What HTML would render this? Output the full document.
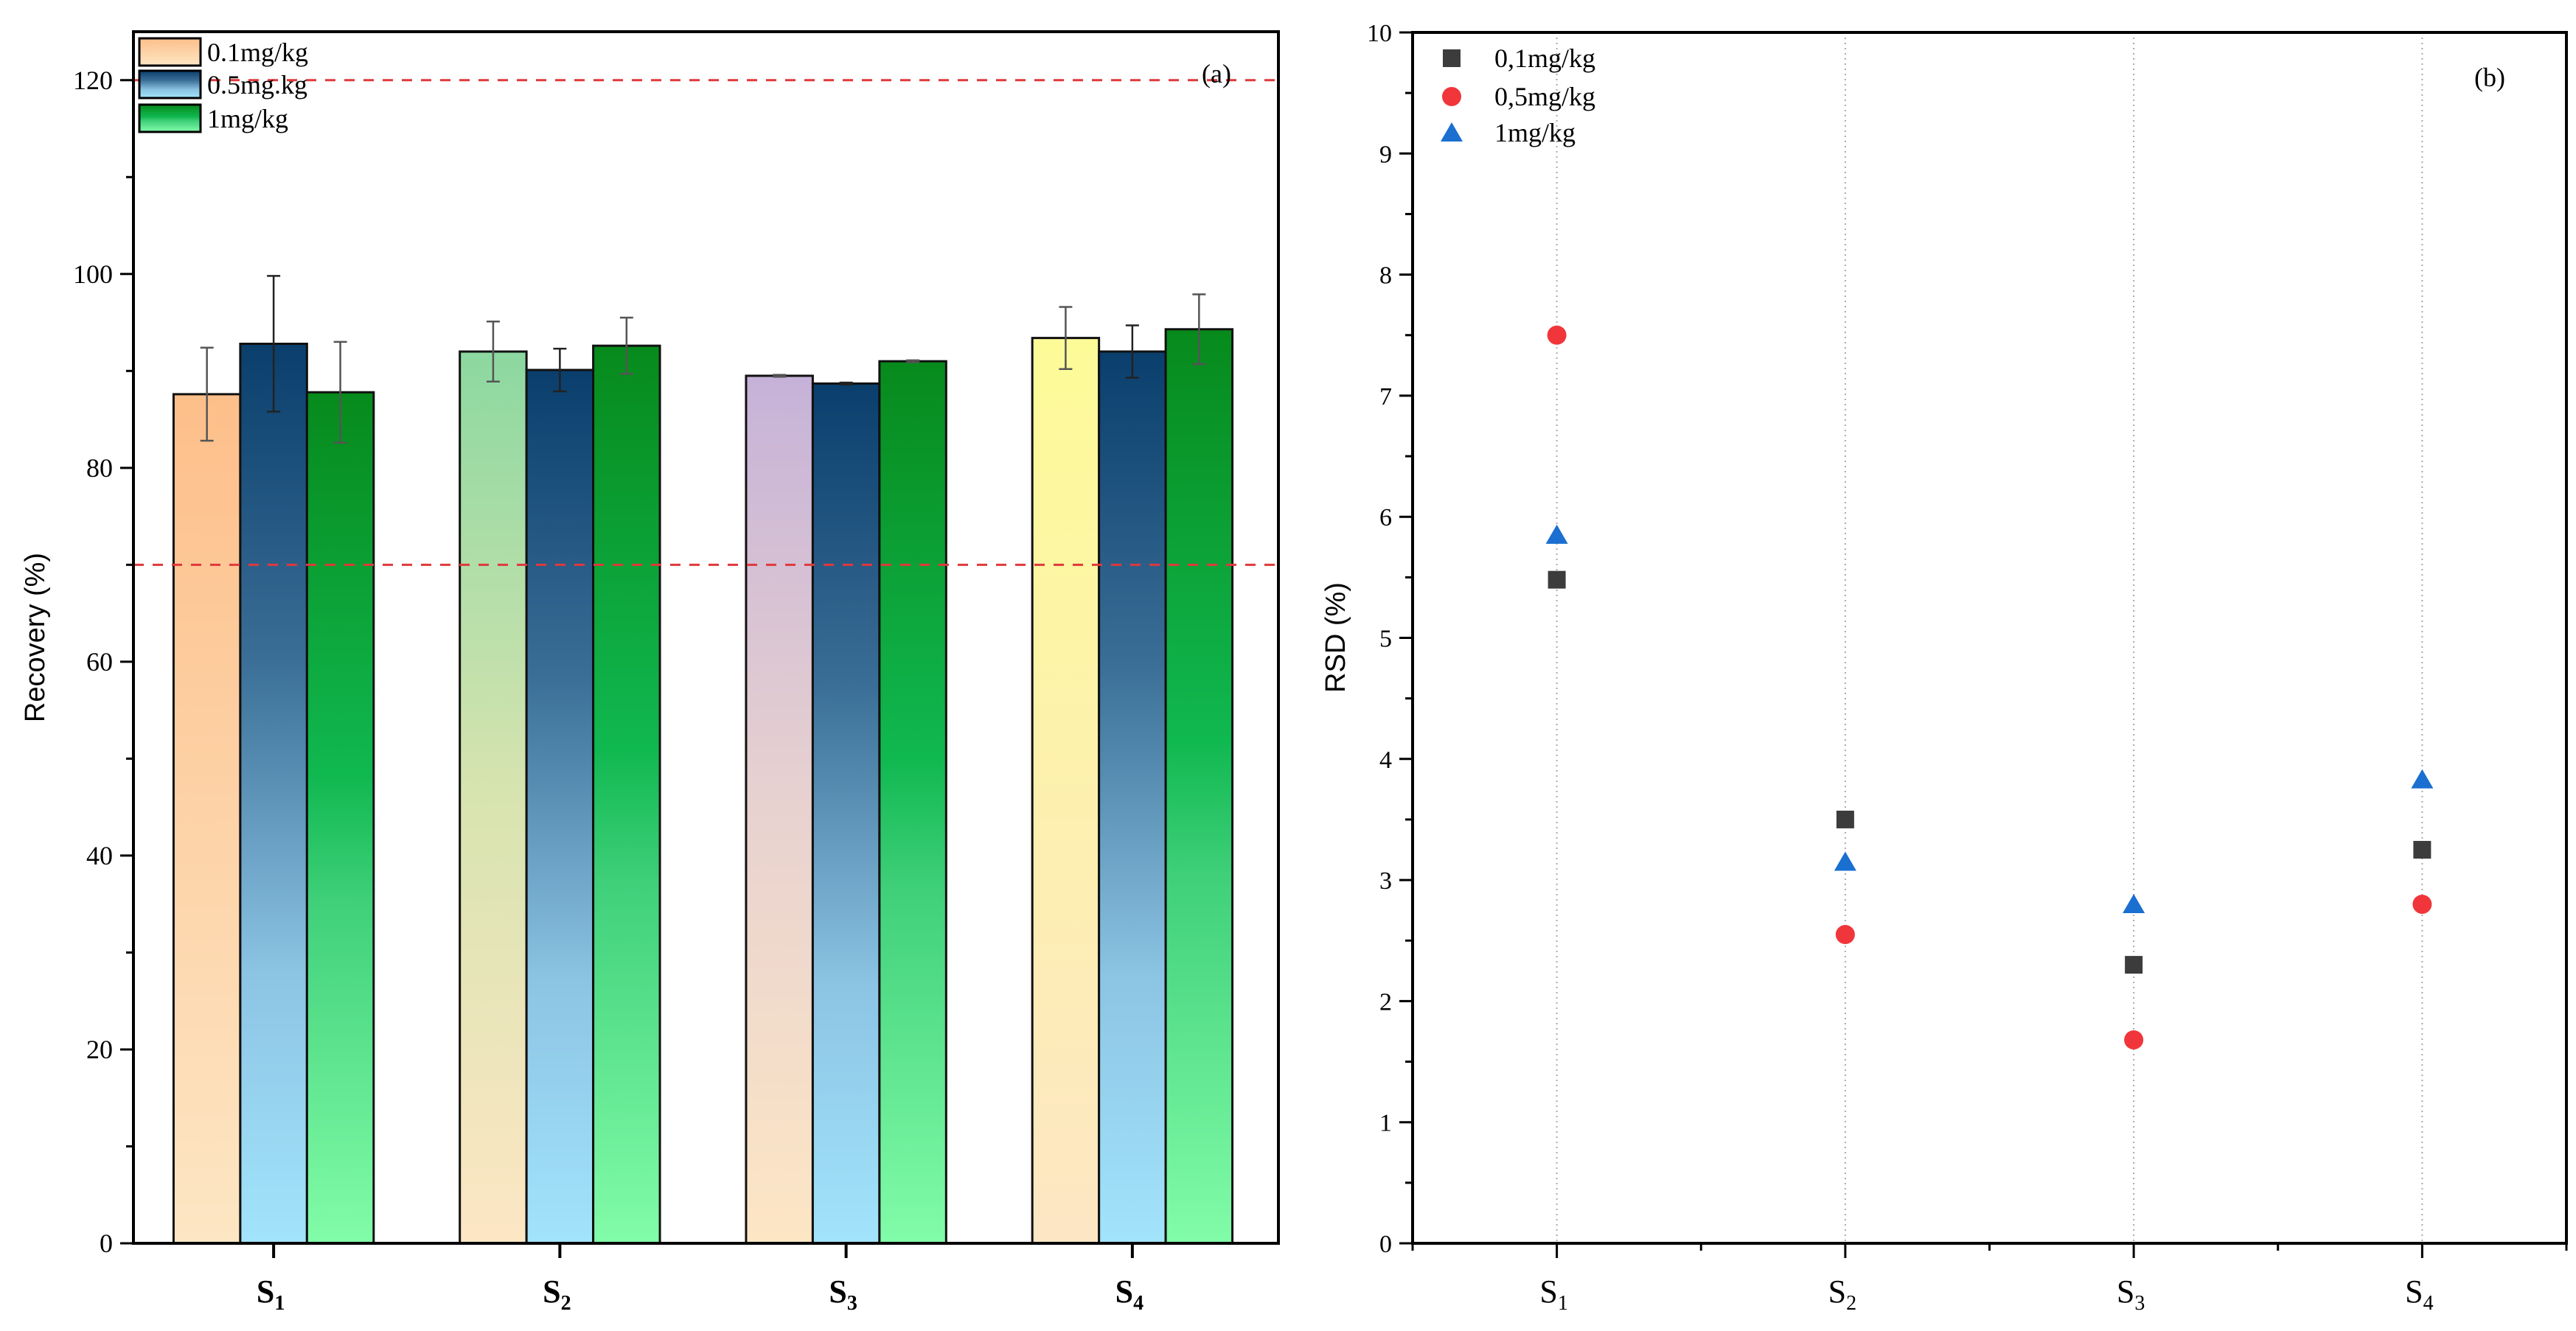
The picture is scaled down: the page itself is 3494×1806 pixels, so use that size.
<!DOCTYPE html>
<html><head><meta charset="utf-8"><style>
html,body{margin:0;padding:0;background:#fff;}
svg{display:block;font-family:"Liberation Serif",serif;}
</style></head><body>
<svg id="c" width="3494" height="1806" viewBox="0 0 3494 1806" xmlns="http://www.w3.org/2000/svg">
<defs>
<linearGradient id="g01" x1="0" y1="0" x2="0" y2="1"><stop offset="0" stop-color="#fdbf8a"/><stop offset="1" stop-color="#fde6c4"/></linearGradient>
<linearGradient id="g02" x1="0" y1="0" x2="0" y2="1"><stop offset="0" stop-color="#8cd8a0"/><stop offset="0.5" stop-color="#d8e4b0"/><stop offset="1" stop-color="#fde6c4"/></linearGradient>
<linearGradient id="g03" x1="0" y1="0" x2="0" y2="1"><stop offset="0" stop-color="#c6b2d8"/><stop offset="0.5" stop-color="#e8d2d0"/><stop offset="1" stop-color="#fde6c4"/></linearGradient>
<linearGradient id="g04" x1="0" y1="0" x2="0" y2="1"><stop offset="0" stop-color="#fdfb98"/><stop offset="1" stop-color="#fde6c4"/></linearGradient>
<linearGradient id="g5" x1="0" y1="0" x2="0" y2="1"><stop offset="0" stop-color="#0a3e6c"/><stop offset="0.35" stop-color="#3a6e96"/><stop offset="0.7" stop-color="#8cc4e4"/><stop offset="1" stop-color="#a2e4fb"/></linearGradient>
<linearGradient id="g1" x1="0" y1="0" x2="0" y2="1"><stop offset="0" stop-color="#078a1c"/><stop offset="0.45" stop-color="#10b850"/><stop offset="0.6" stop-color="#40d07a"/><stop offset="1" stop-color="#82fca8"/></linearGradient>
</defs>
<g id="pa"></g>
<g id="pb"></g>
</svg>
<script>
const cats=["S1","S2","S3","S4"];
const series=["0.1mg/kg","0.5mg/kg","1mg/kg"];
const recLow=[87.6,92.0,89.5,93.4];
const recMid=[92.8,90.1,88.7,92.0];
const recHigh=[87.8,92.6,91.0,94.3];
const errLow=[4.8,3.1,0.1,3.2];
const errMid=[7.0,2.2,0.1,2.7];
const errHigh=[5.2,2.9,0.1,3.6];
const recTicks=[0,20,40,60,80,100,120];
const limits=[70,120];
const rsdLow=[5.48,3.5,2.3,3.25];
const rsdMid=[7.5,2.55,1.68,2.8];
const rsdHigh=[5.85,3.15,2.8,3.83];
const rsdTicks=[0,1,2,3,4,5,6,7,8,9,10];

const NS="http://www.w3.org/2000/svg";
function mk(p,t,a,txt){const e=document.createElementNS(NS,t);for(const k in a)e.setAttribute(k,a[k]);if(txt!==undefined)e.textContent=txt;p.appendChild(e);return e;}
function sLabel(p,x,y,i,bold){const t=mk(p,"text",{x:x,y:y,"text-anchor":"middle","font-size":"44","font-weight":bold?"bold":"normal"});t.appendChild(document.createTextNode("S"));const s=document.createElementNS(NS,"tspan");s.setAttribute("font-size","28");s.setAttribute("dy","10");s.textContent=String(i+1);t.appendChild(s);return t;}

// Panel A
const A=document.getElementById("pa");
const aL=181,aR=1734,aT=43,aB=1687;
const ay=v=>aB-(v/125)*(aB-aT);
const ax=c=>aL+(c-0.5)/4*(aR-aL)-4;
const bw=0.233;
const lowGrads=["g01","g02","g03","g04"];
const vals=[recLow,recMid,recHigh],errs=[errLow,errMid,errHigh];
for(let i=0;i<cats.length;i++){
  for(let s=0;s<3;s++){
    const cx=i+1+(s-1)*bw;
    const x0=ax(cx-bw/2),x1=ax(cx+bw/2);
    const fill=s===0?"url(#"+lowGrads[i]+")":(s===1?"url(#g5)":"url(#g1)");
    const r=mk(A,"rect",{x:x0,y:ay(vals[s][i]),width:x1-x0,height:aB-ay(vals[s][i]),fill:fill,stroke:"#111","stroke-width":"3"});
    
    
    const v=vals[s][i],e=errs[s][i],xm=ax(cx);
    const eb=mk(A,"g",{stroke:s===1?"#222":"#555","stroke-width":"2.5"});
    
    
    mk(eb,"line",{x1:xm,x2:xm,y1:ay(v-e),y2:ay(v+e)});
    mk(eb,"line",{x1:xm-9,x2:xm+9,y1:ay(v-e),y2:ay(v-e)});
    mk(eb,"line",{x1:xm-9,x2:xm+9,y1:ay(v+e),y2:ay(v+e)});
  }
}
limits.forEach(l=>{const d=mk(A,"line",{x1:aL,x2:aR,y1:ay(l),y2:ay(l),stroke:"#e0383c","stroke-width":"3","stroke-dasharray":"14 12"});

});
mk(A,"rect",{x:aL,y:aT,width:aR-aL,height:aB-aT,fill:"none",stroke:"#000","stroke-width":"4"});
for(let v=0;v<=120;v+=10){const maj=v%20===0;mk(A,"line",{x1:aL-(maj?18:10),x2:aL,y1:ay(v),y2:ay(v),stroke:"#000","stroke-width":"3"});}
recTicks.forEach(v=>{const t=mk(A,"text",{x:aL-28,y:ay(v)+12,"text-anchor":"end","font-size":"36"},String(v));

});
cats.forEach((c,i)=>{mk(A,"line",{x1:ax(i+1),x2:ax(i+1),y1:aB,y2:aB+20,stroke:"#000","stroke-width":"4"});
const t=sLabel(A,ax(i+1)-4,aB+80,i,true);

});
const yt=mk(A,"text",{x:0,y:0,transform:"translate(60,865) rotate(-90)","text-anchor":"middle","font-size":"38","font-family":"Liberation Sans, sans-serif"},"Recovery (%)");


mk(A,"text",{x:1650,y:112,"text-anchor":"middle","font-size":"36"},"(a)");
const legG=["g01","g5","g1"],legY=[52,96,142];
series.forEach((s,k)=>{const g=mk(A,"g",{});


mk(g,"rect",{x:189,y:legY[k],width:83,height:37,fill:"url(#"+legG[k]+")",stroke:"#000","stroke-width":"3"});
mk(g,"text",{x:281,y:legY[k]+31,"font-size":"36"},k===1?"0.5mg.kg":s);});

// Panel B
const B=document.getElementById("pb");
const bL=1916,bR=3481,bT=44,bB=1687;
const by=v=>bB-(v/10)*(bB-bT);
const bx=c=>bL+(c-0.5)/4*(bR-bL);
cats.forEach((c,i)=>{mk(B,"line",{x1:bx(i+1),x2:bx(i+1),y1:bT,y2:bB,stroke:"#aaa","stroke-width":"2","stroke-dasharray":"2 5"});});
mk(B,"rect",{x:bL,y:bT,width:bR-bL,height:bB-bT,fill:"none",stroke:"#000","stroke-width":"4"});
for(let v=0;v<=10;v+=0.5){const maj=Math.abs(v-Math.round(v))<1e-6;mk(B,"line",{x1:bL-(maj?18:10),x2:bL,y1:by(v),y2:by(v),stroke:"#000","stroke-width":"3"});}
rsdTicks.forEach(v=>{const t=mk(B,"text",{x:bL-28,y:by(v)+12,"text-anchor":"end","font-size":"34"},String(v));

});
for(let c=0.5;c<=4.5;c+=0.5){const maj=Math.abs(c-Math.round(c))<1e-6;mk(B,"line",{x1:bx(c),x2:bx(c),y1:bB,y2:bB+(maj?20:10),stroke:"#000","stroke-width":"3"});}
cats.forEach((c,i)=>{const t=sLabel(B,bx(i+1)-4,bB+80,i,false);

});
const yt2=mk(B,"text",{x:0,y:0,transform:"translate(1824,865) rotate(-90)","text-anchor":"middle","font-size":"38","font-family":"Liberation Sans, sans-serif"},"RSD (%)");


mk(B,"text",{x:3377,y:117,"text-anchor":"middle","font-size":"36"},"(b)");
function marker(p,type,x,y){
  if(type===0)return mk(p,"rect",{x:x-12,y:y-12,width:24,height:24,fill:"#3c3c3c"});
  if(type===1)return mk(p,"circle",{cx:x,cy:y,r:13,fill:"#f0363a"});
  return mk(p,"polygon",{points:(x)+","+(y-14)+" "+(x-15)+","+(y+12)+" "+(x+15)+","+(y+12),fill:"#1a6fd0"});
}
const rs=[rsdLow,rsdMid,rsdHigh];
rs.forEach((arr,s)=>{arr.forEach((v,i)=>{const m=marker(B,s,bx(i+1),by(v));

});});
const lyB=[79,131,180];
series.forEach((s,k)=>{const g=mk(B,"g",{});


marker(g,k,1969,lyB[k]);
mk(g,"text",{x:2027,y:lyB[k]+12,"font-size":"36"},k===0?"0,1mg/kg":k===1?"0,5mg/kg":s);});
</script>
</body></html>
